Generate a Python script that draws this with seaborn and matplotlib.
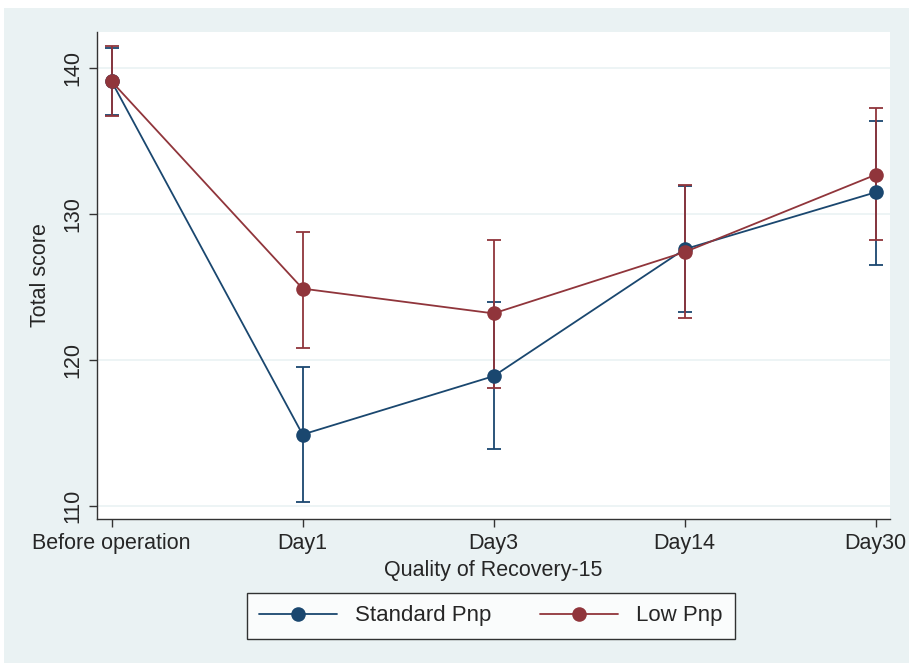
import numpy as np
import pandas as pd
import matplotlib
matplotlib.use("Agg")
import matplotlib.pyplot as plt
import seaborn as sns

# data
timepoints = ["Before operation", "Day1", "Day3", "Day14", "Day30"]
std_mean = [139.1, 114.9, 118.9, 127.6, 131.5]
std_low = [136.8, 110.3, 113.9, 123.3, 126.5]
std_high = [141.4, 119.5, 124.0, 131.9, 136.4]
low_mean = [139.1, 124.9, 123.2, 127.4, 132.7]
low_low = [136.7, 120.8, 118.1, 122.9, 128.2]
low_high = [141.5, 128.8, 128.2, 132.0, 137.3]
groups = ["Standard Pnp", "Low Pnp"]
colors = {"Standard Pnp": "#1a476f", "Low Pnp": "#90353b"}

df = pd.DataFrame({
    "pos": list(range(len(timepoints))) * 2,
    "score": std_mean + low_mean,
    "lo": std_low + low_low,
    "hi": std_high + low_high,
    "group": [groups[0]] * len(timepoints) + [groups[1]] * len(timepoints),
})

sns.set_style("white")
plt.rcParams["font.family"] = ["Liberation Sans", "DejaVu Sans"]

bg = "#eaf2f3"
fig = plt.figure(figsize=(9.09, 6.63), dpi=100, facecolor="white")
# outer light panel like Stata's graph region
fig.patches.append(plt.Rectangle((0.004, 0.0), 0.996, 0.988, transform=fig.transFigure,
                                 facecolor=bg, edgecolor="none", zorder=-10))
ax = fig.add_axes([0.107, 0.217, 0.872, 0.735])
ax.set_facecolor("white")

for g in groups:
    sub = df[df["group"] == g]
    ax.errorbar(sub["pos"], sub["score"],
                yerr=[sub["score"] - sub["lo"], sub["hi"] - sub["score"]],
                fmt="none", ecolor=colors[g], elinewidth=1.3, capsize=5, capthick=1.3, zorder=2)

sns.lineplot(data=df, x="pos", y="score", hue="group", hue_order=groups, palette=colors,
             marker="o", markersize=10.5, markeredgewidth=0, linewidth=1.3, ax=ax, zorder=3,
             legend=False)

ax.set_xlim(-0.075, 4.075)
ax.set_ylim(109.1, 142.5)
ax.set_yticks([110, 120, 130, 140])
ax.set_xticks(range(len(timepoints)))
ax.set_xticklabels(timepoints)
ax.yaxis.grid(True, color=bg, linewidth=1.2)
ax.set_axisbelow(True)
for lab in ax.get_yticklabels():
    lab.set_rotation(90)
    lab.set_va("center")
ax.tick_params(axis="both", direction="out", length=6, width=1, color="#333333",
               labelsize=15.5, bottom=True, left=True, pad=4)
ax.set_xlabel("Quality of Recovery-15", fontsize=15.5, labelpad=4)
ax.set_ylabel("Total score", fontsize=15.5, labelpad=8)
for side in ["top", "right"]:
    ax.spines[side].set_visible(False)
for side in ["left", "bottom"]:
    ax.spines[side].set_color("#333333")
    ax.spines[side].set_linewidth(1)

handles = [plt.Line2D([], [], color=colors[g], marker="o", markersize=10.5, linewidth=1.3,
                      markeredgewidth=0) for g in groups]
leg = fig.legend(handles, groups, loc="center", bbox_to_anchor=(0.54, 0.071), ncol=2,
                 frameon=True, fancybox=False, edgecolor="black",
                 handlelength=3.5, columnspacing=2.2, borderpad=0.55, handletextpad=0.8,
                 prop={"family": ["Liberation Sans", "DejaVu Sans"], "size": 16})
leg.get_frame().set_linewidth(1)

fig.savefig("out.png", dpi=100, facecolor="white")
